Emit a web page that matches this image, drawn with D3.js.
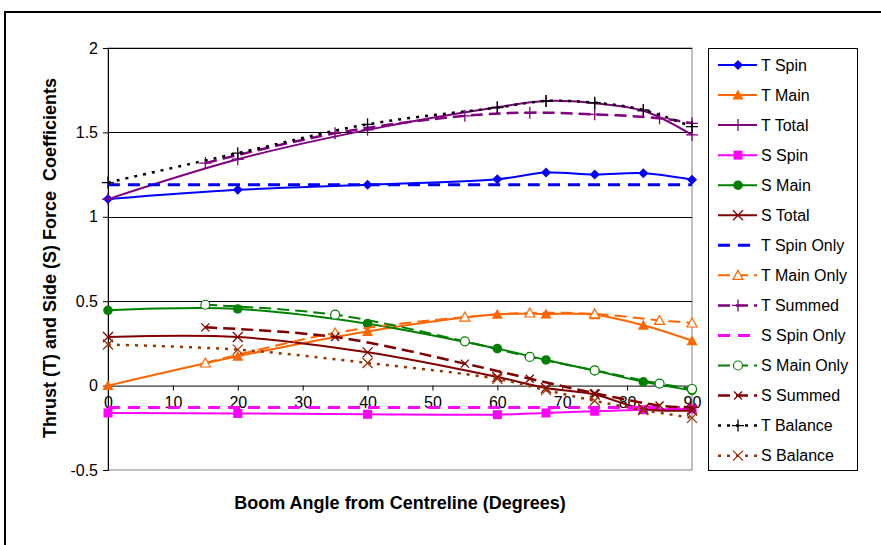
<!DOCTYPE html>
<html>
<head>
<meta charset="utf-8">
<script src="https://cdn.jsdelivr.net/npm/d3@7"></script>
<style>
	body { margin: 0; background: #fff; }
	svg { font-family: "Liberation Sans", Arial, sans-serif; }
	.tick text { font-size: 16px; fill: #000; }
</style>
</head>
<body>
<svg class="chart"></svg>
<script>
/* Thrust and side force coefficients against boom angle */

// Angles used by the measured series
var angles = [0, 20, 40, 60, 67.5, 75, 82.5, 90];
// Angles used by the "Only" / "Summed" series
var onlyAngles = [15, 35, 55, 65, 75, 85, 90];

var tSpin   = [1.105, 1.16, 1.19, 1.223, 1.262, 1.25, 1.258, 1.22];
var tMain   = [0, 0.174, 0.321, 0.422, 0.424, 0.42, 0.357, 0.266];
var tTotal  = [1.105, 1.341, 1.515, 1.649, 1.686, 1.673, 1.628, 1.485];
var sSpin   = [-0.162, -0.165, -0.17, -0.172, -0.162, -0.152, -0.143, -0.138];
var sMain   = [0.446, 0.454, 0.367, 0.219, 0.152, 0.089, 0.022, -0.028];
var sTotal  = [0.288, 0.288, 0.197, 0.051, -0.014, -0.053, -0.138, -0.148];
var tSpinOnly = [1.19, 1.19, 1.19, 1.19, 1.19, 1.19, 1.19, 1.19];
var sSpinOnly = [-0.13, -0.13, -0.13, -0.13, -0.13, -0.13, -0.13, -0.13];
var tBalance = [1.203, 1.377, 1.548, 1.647, 1.686, 1.676, 1.633, 1.534];
var sBalance = [0.243, 0.213, 0.134, 0.04, -0.027, -0.09, -0.145, -0.191];

var tMainOnly = [0.134, 0.312, 0.406, 0.43, 0.425, 0.386, 0.371];
var tSummed   = [1.318, 1.495, 1.598, 1.617, 1.607, 1.584, 1.554];
var sMainOnly = [0.479, 0.42, 0.262, 0.17, 0.09, 0.012, -0.02];
var sSummed   = [0.345, 0.288, 0.13, 0.041, -0.045, -0.118, -0.13];

var xTicks = [0, 10, 20, 30, 40, 50, 60, 70, 80, 90];
var yTicks = [-0.5, 0, 0.5, 1, 1.5, 2];

var seriesNames = ["T Spin", "T Main", "T Total", "S Spin", "S Main", "S Total",
	"T Spin Only", "T Main Only", "T Summed", "S Spin Only", "S Main Only",
	"S Summed", "T Balance", "S Balance"];

// styles for each series, same order as names
var styles = [
	{x: angles, y: tSpin, color: "#0000ff", w: 2, dash: null, mark: "diamond"},
	{x: angles, y: tMain, color: "#ff6600", w: 2, dash: null, mark: "triangle"},
	{x: angles, y: tTotal, color: "#800080", w: 2, dash: null, mark: "plus"},
	{x: angles, y: sSpin, color: "#ff00ff", w: 2, dash: null, mark: "square"},
	{x: angles, y: sMain, color: "#008000", w: 2, dash: null, mark: "circle"},
	{x: angles, y: sTotal, color: "#800000", w: 2, dash: null, mark: "cross"},
	{x: angles, y: tSpinOnly, color: "#0000ff", w: 3, dash: "12,8", mark: null},
	{x: onlyAngles, y: tMainOnly, color: "#ff6600", w: 2, dash: "12,6", mark: "opentri"},
	{x: onlyAngles, y: tSummed, color: "#800080", w: 2.5, dash: "12,6", mark: "plus"},
	{x: angles, y: sSpinOnly, color: "#ff00ff", w: 3, dash: "12,8", mark: null},
	{x: onlyAngles, y: sMainOnly, color: "#008000", w: 2, dash: "12,6", mark: "opencircle"},
	{x: onlyAngles, y: sSummed, color: "#800000", w: 2.5, dash: "12,6", mark: "smallcross"},
	{x: angles, y: tBalance, color: "#000000", w: 2.5, dash: "3,6", mark: "plus"},
	{x: angles, y: sBalance, color: "#993300", w: 2.5, dash: "3,6", mark: "cross"}
];

var W = 881, H = 545;
var margin = {top: 48, left: 108, right: 189, bottom: 75},
	width = W - margin.left - margin.right,
	height = H - margin.top - margin.bottom;

var svg = d3.select(".chart")
	.attr("width", W)
	.attr("height", H);

// outer frame
svg.append("rect")
	.attr("x", 5).attr("y", 12)
	.attr("width", 900).attr("height", 600)
	.attr("fill", "none")
	.attr("stroke", "#000")
	.attr("stroke-width", 2);

var x = d3.scaleLinear().domain([0, 90]).range([0, width]);
var y = d3.scaleLinear().domain([-0.5, 2]).range([height, 0]);

var chart = svg.append("g")
	.attr("transform", "translate(" + margin.left + "," + margin.top + ")");

// plot border (grey)
chart.append("rect")
	.attr("width", width).attr("height", height)
	.attr("fill", "none")
	.attr("stroke", "#808080")
	.attr("stroke-width", 1);

// gridlines
chart.selectAll(".grid")
	.data(yTicks.filter(function(d) { return d > 0; }))
  .enter().append("line")
	.attr("class", "grid")
	.attr("x1", 0).attr("x2", width)
	.attr("y1", function(d) { return Math.round(y(d)) + 0.5; })
	.attr("y2", function(d) { return Math.round(y(d)) + 0.5; })
	.attr("stroke", "#000")
	.attr("stroke-width", 1);

var yAxis = d3.axisLeft(y).tickValues(yTicks).tickSize(5).tickPadding(5)
	.tickFormat(function(d) { return d; });
chart.append("g").attr("class", "y axis").call(yAxis)
	.selectAll("path, line").attr("stroke", "#000");

var xAxis = d3.axisBottom(x).tickValues(xTicks).tickSize(5).tickPadding(6)
	.tickSizeOuter(0);
var xg = chart.append("g").attr("class", "x axis")
	.attr("transform", "translate(0," + y(0) + ")")
	.call(xAxis);
xg.selectAll("path, line").attr("stroke", "#000");

// axis titles
chart.append("text")
	.attr("x", width / 2)
	.attr("y", height + 39)
	.attr("text-anchor", "middle")
	.attr("font-size", "18px")
	.attr("font-weight", "bold")
	.text("Boom Angle from Centreline (Degrees)");

chart.append("text")
	.attr("transform", "translate(-52," + (258 - margin.top) + ") rotate(-90)")
	.attr("text-anchor", "middle")
	.attr("font-size", "18px")
	.attr("font-weight", "bold")
	.style("white-space", "pre")
	.text("Thrust (T) and Side (S) Force  Coefficients");

// marker drawing
function drawMarker(g, type, color) {
	if (type === "diamond") {
		g.append("path").attr("d", "M0,-5L5,0L0,5L-5,0Z").attr("fill", color);
	} else if (type === "triangle") {
		g.append("path").attr("d", "M0,-5.5L5.5,4.5L-5.5,4.5Z").attr("fill", color);
	} else if (type === "opentri") {
		g.append("path").attr("d", "M0,-5L5,4L-5,4Z").attr("fill", "#fff")
			.attr("stroke", color).attr("stroke-width", 1.2);
	} else if (type === "square") {
		g.append("rect").attr("x", -4.5).attr("y", -4.5).attr("width", 9).attr("height", 9)
			.attr("fill", color);
	} else if (type === "circle") {
		g.append("circle").attr("r", 4.8).attr("fill", color);
	} else if (type === "opencircle") {
		g.append("circle").attr("r", 4.5).attr("fill", "#fff")
			.attr("stroke", color).attr("stroke-width", 1.2);
	} else if (type === "plus") {
		g.append("path").attr("d", "M-6,0H6M0,-6V6").attr("stroke", color)
			.attr("stroke-width", 1.3).attr("fill", "none");
	} else if (type === "cross") {
		g.append("path").attr("d", "M-5,-5L5,5M-5,5L5,-5").attr("stroke", color)
			.attr("stroke-width", 1.3).attr("fill", "none");
	} else if (type === "smallcross") {
		g.append("path").attr("d", "M-4,-4L4,4M-4,4L4,-4").attr("stroke", color)
			.attr("stroke-width", 1.3).attr("fill", "none");
	}
}

var line = d3.line()
	.x(function(d) { return x(d[0]); })
	.y(function(d) { return y(d[1]); })
	.curve(d3.curveCatmullRom.alpha(0.5));

var plot = chart.append("g");

styles.forEach(function(s) {
	var pts = s.x.map(function(a, i) { return [a, s.y[i]]; });
	plot.append("path")
		.datum(pts)
		.attr("d", line)
		.attr("fill", "none")
		.attr("stroke", s.color)
		.attr("stroke-width", s.w)
		.attr("stroke-dasharray", s.dash);
	if (s.mark) {
		pts.forEach(function(p) {
			var g = plot.append("g")
				.attr("transform", "translate(" + x(p[0]) + "," + y(p[1]) + ")");
			drawMarker(g, s.mark, s.color);
		});
	}
});

// legend
var legend = svg.append("g").attr("transform", "translate(708,48)");
legend.append("rect")
	.attr("x", 0.5).attr("y", 0.5)
	.attr("width", 149).attr("height", 422)
	.attr("fill", "#fff")
	.attr("stroke", "#000");

seriesNames.forEach(function(name, i) {
	var s = styles[i];
	var row = legend.append("g").attr("transform", "translate(0," + (17 + i * 30.05) + ")");
	row.append("line")
		.attr("x1", 10).attr("x2", 49)
		.attr("stroke", s.color)
		.attr("stroke-width", s.w)
		.attr("stroke-dasharray", s.dash);
	if (s.mark) {
		drawMarker(row.append("g").attr("transform", "translate(30,0)"), s.mark, s.color);
	}
	row.append("text")
		.attr("x", 53)
		.attr("y", 0)
		.attr("dy", "0.35em")
		.attr("font-size", "16px")
		.text(name);
});
</script>
</body>
</html>
